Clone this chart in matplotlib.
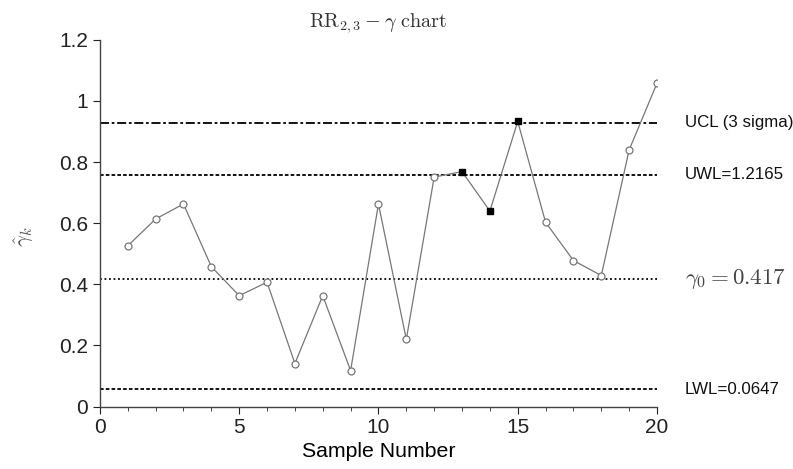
import matplotlib
matplotlib.use("Agg")
import matplotlib.pyplot as plt

samples = list(range(1, 21))
gamma_hat = [0.526, 0.614, 0.663, 0.458, 0.363, 0.407, 0.141, 0.363, 0.118, 0.663,
             0.220, 0.751, 0.769, 0.640, 0.933, 0.603, 0.478, 0.429, 0.840, 1.058]
flagged = [13, 14, 15]
ucl = 0.928
uwl = 0.758
center = 0.417
lwl = 0.057

plt.rcParams['font.family'] = ['Liberation Sans', 'DejaVu Sans']
plt.rcParams['mathtext.fontset'] = 'cm'

fig = plt.figure(figsize=(7.93, 4.69), dpi=100)
ax = fig.add_axes([0.126, 0.133, 0.7025, 0.782])

gray = '#777777'
ax.plot(samples, gamma_hat, color=gray, lw=0.9, zorder=3)
open_x = [s for s in samples if s not in flagged]
open_y = [g for s, g in zip(samples, gamma_hat) if s not in flagged]
ax.plot(open_x, open_y, 'o', ms=5, mfc='white', mec=gray, mew=0.9, ls='none', zorder=4)
fx = [s for s in samples if s in flagged]
fy = [g for s, g in zip(samples, gamma_hat) if s in flagged]
ax.plot(fx, fy, 's', ms=5, color='black', ls='none', zorder=5)

ax.plot([0, 20], [ucl, ucl], color='black', lw=1.3, ls=(0, (5, 1.5, 1.5, 1.5)), zorder=2)
ax.plot([0, 20], [uwl, uwl], color='black', lw=1.3, ls=(0, (2, 1.2)), zorder=2)
ax.plot([0, 20], [center, center], color='black', lw=1.3, ls=(0, (1, 1.5)), zorder=2)
ax.plot([0, 20], [lwl, lwl], color='black', lw=1.3, ls=(0, (2, 1.2)), zorder=2)

lx = 21.0
ax.text(lx, ucl, 'UCL (3 sigma)', fontsize=12.2, va='center', ha='left', color='#111111')
ax.text(lx, uwl, 'UWL=1.2165', fontsize=12.2, va='center', ha='left', color='#111111')
ax.text(lx, center, r'$\gamma_0 = 0.417$', fontsize=16.5, va='center', ha='left', color='#444444')
ax.text(lx, lwl, 'LWL=0.0647', fontsize=12.2, va='center', ha='left', color='#111111')

ax.set_xlim(0, 20)
ax.set_ylim(0, 1.2)
ax.set_xticks([0, 5, 10, 15, 20])
ax.set_xticklabels(['0', '5', '10', '15', '20'])
ax.set_xticks(range(0, 21), minor=True)
ax.set_yticks([0, 0.2, 0.4, 0.6, 0.8, 1.0, 1.2])
ax.set_yticklabels(['0', '0.2', '0.4', '0.6', '0.8', '1', '1.2'])
ax.tick_params(axis='both', which='major', direction='out', length=5, labelsize=15, colors='#222222')
ax.tick_params(axis='x', which='minor', direction='out', length=3, colors='#222222')
for s in ['top', 'right']:
    ax.spines[s].set_visible(False)
for s in ['left', 'bottom']:
    ax.spines[s].set_color('#444444')
    ax.spines[s].set_linewidth(1.0)

ax.set_xlabel('Sample Number', fontsize=15.3, labelpad=3)
ax.set_ylabel(r'$\hat{\gamma}_k$', fontsize=15, color='#555555')
ax.yaxis.set_label_coords(-0.115, 0.463)
ax.set_title(r'$\mathrm{RR}_{2,3} - \gamma\ \mathrm{chart}$', fontsize=14.5, pad=9, color='#333333')

fig.savefig('out.png', dpi=100)
